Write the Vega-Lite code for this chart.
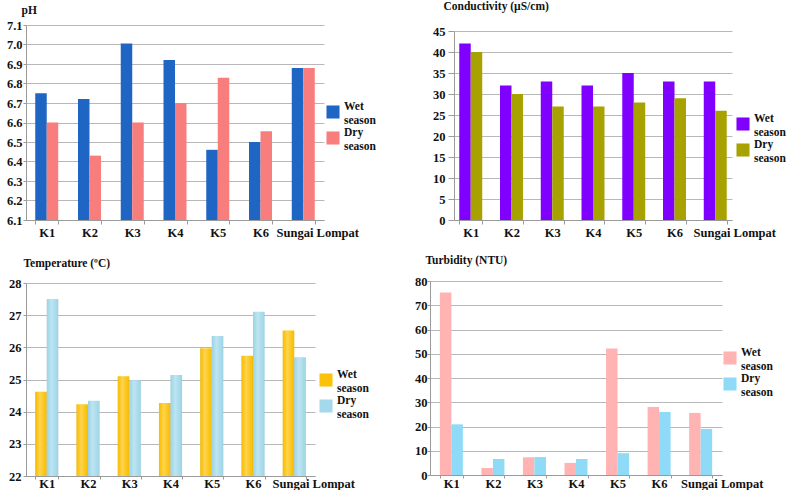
{
  "$schema": "https://vega.github.io/schema/vega-lite/v6.json",
  "background": "white",
  "padding": {"left": 6, "top": 0, "right": 0, "bottom": 0},
  "config": {
    "view": {"stroke": null},
    "font": "Liberation Serif",
    "bar": {"strokeWidth": 0},
    "axis": {
      "labelFont": "Liberation Serif", "labelFontWeight": "bold", "labelFontSize": 12.5, "labelColor": "#111",
      "titleFont": "Liberation Serif", "titleFontWeight": "bold", "titleFontSize": 11.5, "titleColor": "#111",
      "domainColor": "#9a9a9a", "tickColor": "#9a9a9a", "gridColor": "#b8b8b8", "tickSize": 3, "labelPadding": 1
    },
    "axisX": {"labelAngle": 0, "tickBand": "extent", "labelPadding": 2, "tickSize": 4},
    "legend": {
      "orient": "none", "title": null, "symbolType": "square", "symbolSize": 170, "symbolStrokeWidth": 0,
      "labelFont": "Liberation Serif", "labelFontWeight": "bold", "labelFontSize": 11.5, "labelColor": "#111",
      "labelOffset": 4, "rowPadding": 1, "symbolOpacity": 1, "labelBaseline": "bottom"
    }
  },
  "datasets": {
    "ph": [
      {"site": "K1", "season": "Wet season", "value": 6.75}, {"site": "K1", "season": "Dry season", "value": 6.60},
      {"site": "K2", "season": "Wet season", "value": 6.72}, {"site": "K2", "season": "Dry season", "value": 6.43},
      {"site": "K3", "season": "Wet season", "value": 7.005}, {"site": "K3", "season": "Dry season", "value": 6.60},
      {"site": "K4", "season": "Wet season", "value": 6.92}, {"site": "K4", "season": "Dry season", "value": 6.70},
      {"site": "K5", "season": "Wet season", "value": 6.46}, {"site": "K5", "season": "Dry season", "value": 6.83},
      {"site": "K6", "season": "Wet season", "value": 6.50}, {"site": "K6", "season": "Dry season", "value": 6.555},
      {"site": "Sungai Lompat", "season": "Wet season", "value": 6.88}, {"site": "Sungai Lompat", "season": "Dry season", "value": 6.88}
    ],
    "cond": [
      {"site": "K1", "season": "Wet season", "value": 42}, {"site": "K1", "season": "Dry season", "value": 40},
      {"site": "K2", "season": "Wet season", "value": 32}, {"site": "K2", "season": "Dry season", "value": 30},
      {"site": "K3", "season": "Wet season", "value": 33}, {"site": "K3", "season": "Dry season", "value": 27},
      {"site": "K4", "season": "Wet season", "value": 32}, {"site": "K4", "season": "Dry season", "value": 27},
      {"site": "K5", "season": "Wet season", "value": 35}, {"site": "K5", "season": "Dry season", "value": 28},
      {"site": "K6", "season": "Wet season", "value": 33}, {"site": "K6", "season": "Dry season", "value": 29},
      {"site": "Sungai Lompat", "season": "Wet season", "value": 33}, {"site": "Sungai Lompat", "season": "Dry season", "value": 26}
    ],
    "temp": [
      {"site": "K1", "season": "Wet season", "value": 24.62}, {"site": "K1", "season": "Dry season", "value": 27.5},
      {"site": "K2", "season": "Wet season", "value": 24.23}, {"site": "K2", "season": "Dry season", "value": 24.34},
      {"site": "K3", "season": "Wet season", "value": 25.1}, {"site": "K3", "season": "Dry season", "value": 24.98},
      {"site": "K4", "season": "Wet season", "value": 24.27}, {"site": "K4", "season": "Dry season", "value": 25.14},
      {"site": "K5", "season": "Wet season", "value": 25.97}, {"site": "K5", "season": "Dry season", "value": 26.35},
      {"site": "K6", "season": "Wet season", "value": 25.74}, {"site": "K6", "season": "Dry season", "value": 27.11},
      {"site": "Sungai Lompat", "season": "Wet season", "value": 26.52}, {"site": "Sungai Lompat", "season": "Dry season", "value": 25.69}
    ],
    "turb": [
      {"site": "K1", "season": "Wet season", "value": 75.3}, {"site": "K1", "season": "Dry season", "value": 20.9},
      {"site": "K2", "season": "Wet season", "value": 2.9}, {"site": "K2", "season": "Dry season", "value": 6.6},
      {"site": "K3", "season": "Wet season", "value": 7.3}, {"site": "K3", "season": "Dry season", "value": 7.4},
      {"site": "K4", "season": "Wet season", "value": 5.0}, {"site": "K4", "season": "Dry season", "value": 6.6},
      {"site": "K5", "season": "Wet season", "value": 52.2}, {"site": "K5", "season": "Dry season", "value": 9.0},
      {"site": "K6", "season": "Wet season", "value": 28.0}, {"site": "K6", "season": "Dry season", "value": 26.0},
      {"site": "Sungai Lompat", "season": "Wet season", "value": 25.6}, {"site": "Sungai Lompat", "season": "Dry season", "value": 19.0}
    ]
  },
  "spacing": 15,
  "resolve": {"scale": {"color": "independent", "x": "independent", "y": "independent", "xOffset": "independent"}, "legend": {"color": "independent"}},
  "vconcat": [
    {
      "spacing": 56,
      "resolve": {"scale": {"color": "independent", "x": "independent", "y": "independent", "xOffset": "independent"}, "legend": {"color": "independent"}},
      "hconcat": [
        {
          "width": 298, "height": 195,
          "data": {"name": "ph"},
          "mark": {"type": "bar"},
          "encoding": {
            "x": {"field": "site", "type": "nominal", "sort": null, "scale": {"paddingInner": 0.462, "paddingOuter": 0.216},
                  "axis": {"title": null, "labelOffset": {"condition": {"test": "datum.value === 'Sungai Lompat'", "value": 14}, "value": 0}}},
            "xOffset": {"field": "season", "sort": ["Wet season", "Dry season"]},
            "y": {"field": "value", "type": "quantitative", "scale": {"domain": [6.1, 7.1], "zero": false, "nice": false},
                  "axis": {"values": [6.1, 6.2, 6.3, 6.4, 6.5, 6.6, 6.7, 6.8, 6.9, 7.0, 7.1], "format": ".1f", "title": "pH", "titleAngle": 0, "titleAlign": "left", "titleBaseline": "alphabetic", "titleX": -5, "titleY": -12, "tickSize": 3, "labelPadding": 1}},
            "y2": {"datum": 6.1},
            "color": {"field": "season", "type": "nominal", "scale": {"domain": ["Wet season", "Dry season"], "range": ["#1f66c4", "#f87d7d"]},
                      "legend": {"legendX": 300, "legendY": 80, "labelExpr": "split(datum.label, ' ')"}}
          }
        },
        {
          "width": 278, "height": 195,
          "data": {"name": "cond"},
          "mark": {"type": "bar"},
          "encoding": {
            "x": {"field": "site", "type": "nominal", "sort": null, "scale": {"paddingInner": 0.436, "paddingOuter": 0.129},
                  "axis": {"title": null, "labelOffset": {"condition": {"test": "datum.value === 'Sungai Lompat'", "value": 19}, "value": 0}}},
            "xOffset": {"field": "season", "sort": ["Wet season", "Dry season"]},
            "y": {"field": "value", "type": "quantitative", "scale": {"domain": [0, 45], "nice": false, "range": [195, 6]},
                  "axis": {"values": [0, 5, 10, 15, 20, 25, 30, 35, 40, 45], "title": "Conductivity (µS/cm)", "titleAngle": 0, "titleAlign": "left", "titleBaseline": "alphabetic", "titleX": -11, "titleY": -16, "tickSize": 6, "labelPadding": 3}},
            "color": {"field": "season", "type": "nominal", "scale": {"domain": ["Wet season", "Dry season"], "range": ["#7f00ff", "#a8a200"]},
                      "legend": {"legendX": 282, "legendY": 92, "labelExpr": "split(datum.label, ' ')"}}
          }
        }
      ]
    },
    {
      "spacing": 45,
      "resolve": {"scale": {"color": "independent", "x": "independent", "y": "independent", "xOffset": "independent"}, "legend": {"color": "independent"}},
      "hconcat": [
        {
          "width": 289, "height": 195,
          "data": {"name": "temp"},
          "encoding": {
            "x": {"field": "site", "type": "nominal", "sort": null, "scale": {"paddingInner": 0.44, "paddingOuter": 0.223},
                  "axis": {"title": null, "tickSize": 3, "labelPadding": -2, "labelOffset": {"condition": {"test": "datum.value === 'Sungai Lompat'", "value": 19}, "value": 0}}},
            "xOffset": {"field": "season", "sort": ["Wet season", "Dry season"]},
            "y": {"field": "value", "type": "quantitative", "scale": {"domain": [22, 28], "zero": false, "nice": false, "range": [195, 2]},
                  "axis": {"values": [22, 23, 24, 25, 26, 27, 28], "title": "Temperature (ºC)", "titleAngle": 0, "titleAlign": "left", "titleBaseline": "alphabetic", "titleX": -3, "titleY": -15, "tickSize": 3, "labelPadding": 2}},
            "y2": {"datum": 22}
          },
          "layer": [
            {
              "mark": {"type": "bar"},
              "encoding": {
                "color": {"field": "season", "type": "nominal", "scale": {"domain": ["Wet season", "Dry season"], "range": ["#fcc20a", "#a3d9ea"]},
                          "legend": {"legendX": 293, "legendY": 92, "labelExpr": "split(datum.label, ' ')"}}
              }
            },
            {
              "mark": {"type": "bar", "color": {"gradient": "linear", "x1": 0, "x2": 1, "y1": 0, "y2": 0, "stops": [
                {"offset": 0, "color": "rgba(0,0,0,0.08)"}, {"offset": 0.12, "color": "rgba(255,255,255,0.0)"}, {"offset": 0.4, "color": "rgba(255,255,255,0.3)"}, {"offset": 0.85, "color": "rgba(255,255,255,0.0)"}, {"offset": 1, "color": "rgba(0,0,0,0.08)"}]}}
            }
          ]
        },
        {
          "width": 292, "height": 194,
          "data": {"name": "turb"},
          "mark": {"type": "bar"},
          "encoding": {
            "x": {"field": "site", "type": "nominal", "sort": null, "scale": {"paddingInner": 0.446, "paddingOuter": 0.237},
                  "axis": {"title": null, "tickSize": 3, "labelPadding": -1, "labelOffset": {"condition": {"test": "datum.value === 'Sungai Lompat'", "value": 21}, "value": 0}}},
            "xOffset": {"field": "season", "sort": ["Wet season", "Dry season"]},
            "y": {"field": "value", "type": "quantitative", "scale": {"domain": [0, 80], "nice": false},
                  "axis": {"values": [0, 10, 20, 30, 40, 50, 60, 70, 80], "title": "Turbidity (NTU)", "titleAngle": 0, "titleAlign": "left", "titleBaseline": "alphabetic", "titleX": -5, "titleY": -18, "tickSize": 3, "labelPadding": 0}},
            "color": {"field": "season", "type": "nominal", "scale": {"domain": ["Wet season", "Dry season"], "range": ["#ffb3b3", "#8fdaf7"]},
                      "legend": {"legendX": 293, "legendY": 70, "labelExpr": "split(datum.label, ' ')"}}
          }
        }
      ]
    }
  ]
}
